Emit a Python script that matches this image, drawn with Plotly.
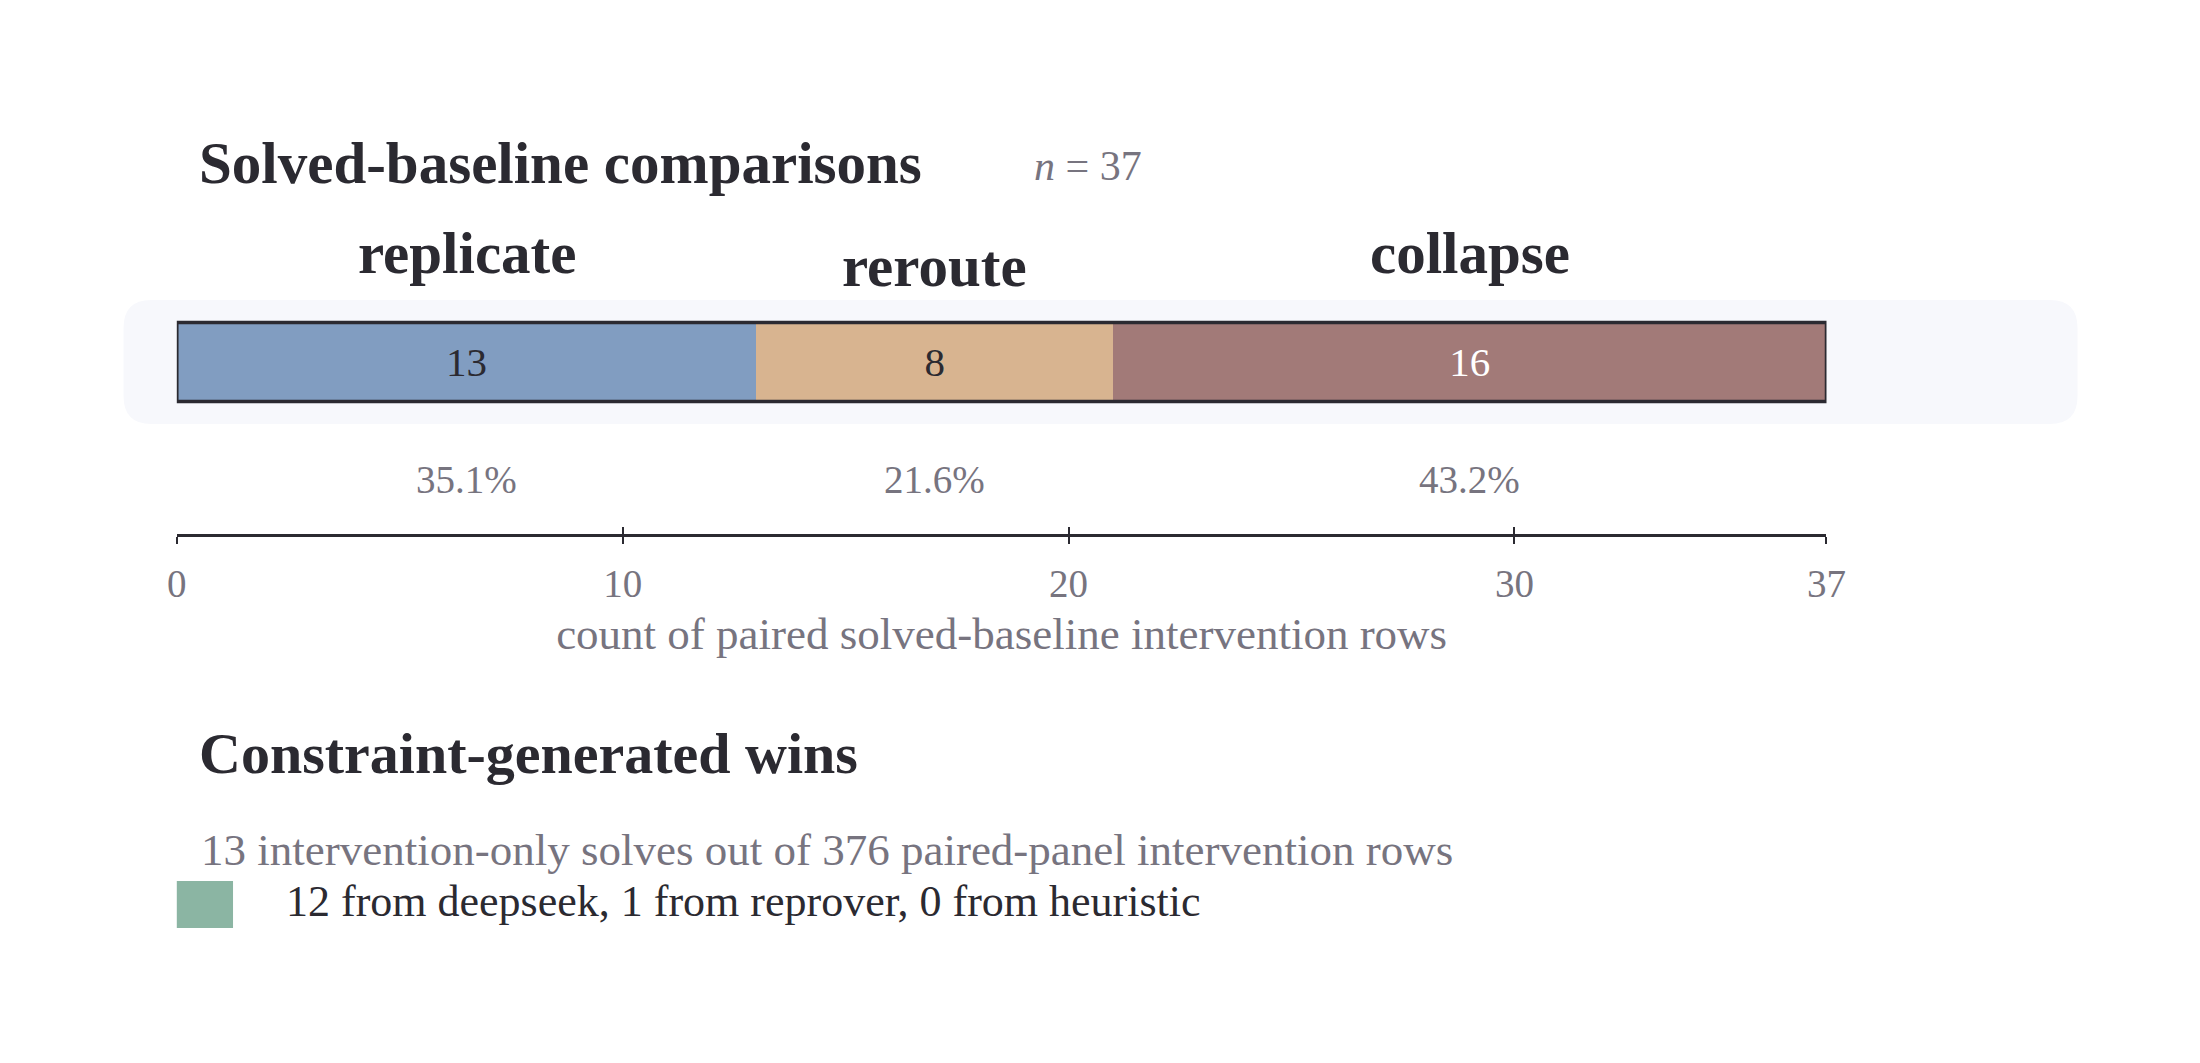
import plotly.graph_objects as go

# Data
categories = ['replicate', 'reroute', 'collapse']
counts = [13, 8, 16]
colors = ['#819dc1', '#d8b490', '#a27a78']
value_colors = ['#2b2a31', '#2b2a31', '#ffffff']
tick_vals = [0, 10, 20, 30, 37]

wins_total = 13
panel_rows = 376
wins_by_source = {'deepseek': 12, 'reprover': 1, 'heuristic': 0}

total = sum(counts)
W, H = 2200, 1063
FONT = 'Liberation Serif'
DARK = '#2b2a31'
GRAY = '#77747f'


def px(x, y):
    # pixel -> paper coords
    return x / W, 1 - y / H


fig = go.Figure()

# stacked horizontal bar segments
for cat, n, col, tc in zip(categories, counts, colors, value_colors):
    fig.add_trace(go.Bar(
        y=['solved'], x=[n], orientation='h', name=cat,
        marker=dict(color=col, line=dict(width=0)),
        width=0.8,
        text=[str(n)], textposition='inside', insidetextanchor='middle',
        textfont=dict(family=FONT, size=41, color=tc),
        hoverinfo='skip', showlegend=False,
    ))

# dummy trace for the overlay axis (ticks crossing the line)
fig.add_trace(go.Scatter(x=[0, total], y=['solved', 'solved'], xaxis='x2',
                         mode='markers', marker=dict(opacity=0),
                         hoverinfo='skip', showlegend=False))

annotations = []
shapes = []

# rounded background panel
x0, y0 = px(107, 292)
x1, y1 = px(2088, 416)
rx, ry = 28 / W, 28 / H
path = (f'M {x0+rx},{y0} L {x1-rx},{y0} Q {x1},{y0} {x1},{y0-ry} '
        f'L {x1},{y1+ry} Q {x1},{y1} {x1-rx},{y1} L {x0+rx},{y1} '
        f'Q {x0},{y1} {x0},{y1+ry} L {x0},{y0-ry} Q {x0},{y0} {x0+rx},{y0} Z')
shapes.append(dict(type='path', xref='paper', yref='paper', path=path,
                   fillcolor='#f7f8fc', line=dict(width=0), layer='below'))

# outline around the whole bar
shapes.append(dict(type='rect', xref='x', yref='y', x0=0, x1=total, y0=-0.4, y1=0.4,
                   line=dict(color=DARK, width=3.5), fillcolor='rgba(0,0,0,0)', layer='above'))

# category labels above segments, percentages below
start = 0
label_y = [245, 258, 245]
for cat, n, ly in zip(categories, counts, label_y):
    mid = start + n / 2
    annotations.append(dict(x=mid, xref='x', y=px(0, ly)[1], yref='paper',
                            text=f'<b>{cat}</b>', showarrow=False,
                            xanchor='center', yanchor='middle',
                            font=dict(family=FONT, size=59, color=DARK)))
    annotations.append(dict(x=mid, xref='x', y=-1.185, yref='y',
                            text=f'{n / total * 100:.1f}%', showarrow=False,
                            xanchor='center', yanchor='middle',
                            font=dict(family=FONT, size=39, color=GRAY)))
    start += n

# titles and notes
tx, ty = px(181, 155)
annotations.append(dict(x=tx, y=ty, xref='paper', yref='paper', text='<b>Solved-baseline comparisons</b>',
                        showarrow=False, xanchor='left', yanchor='middle',
                        font=dict(family=FONT, size=59, color=DARK)))
nx, ny = px(1028, 158)
annotations.append(dict(x=nx, y=ny, xref='paper', yref='paper', text=f'<i>n</i> = {total}',
                        showarrow=False, xanchor='left', yanchor='middle',
                        font=dict(family=FONT, size=42, color=GRAY)))
tx, ty = px(181, 745)
annotations.append(dict(x=tx, y=ty, xref='paper', yref='paper', text='<b>Constraint-generated wins</b>',
                        showarrow=False, xanchor='left', yanchor='middle',
                        font=dict(family=FONT, size=58, color=DARK)))
sx, sy = px(184, 842)
annotations.append(dict(x=sx, y=sy, xref='paper', yref='paper',
                        text=f'{wins_total} intervention-only solves out of {panel_rows} paired-panel intervention rows',
                        showarrow=False, xanchor='left', yanchor='middle',
                        font=dict(family=FONT, size=45, color=GRAY)))
lx, ly = px(270, 893)
src_text = ', '.join(f'{v} from {k}' for k, v in wins_by_source.items())
annotations.append(dict(x=lx, y=ly, xref='paper', yref='paper', text=src_text,
                        showarrow=False, xanchor='left', yanchor='middle',
                        font=dict(family=FONT, size=44, color=DARK)))
gx0, gy0 = px(161, 873)
gx1, gy1 = px(218, 920)
shapes.append(dict(type='rect', xref='paper', yref='paper', x0=gx0, x1=gx1, y0=gy1, y1=gy0,
                   fillcolor='#8bb5a3', line=dict(width=0)))

dom_x = [161 / W, 1833.5 / W]
dom_y = [1 - 526 / H, 1 - 300 / H]

fig.update_layout(
    width=W, height=H,
    barmode='stack',
    plot_bgcolor='rgba(0,0,0,0)', paper_bgcolor='white',
    margin=dict(l=0, r=0, t=0, b=0),
    xaxis=dict(domain=dom_x, range=[0, total], showgrid=False, zeroline=False,
               showline=True, linecolor=DARK, linewidth=2.5,
               ticks='outside', ticklen=7, tickwidth=2, tickcolor=DARK,
               tickvals=tick_vals, ticklabelstandoff=6,
               tickfont=dict(family=FONT, size=39, color=GRAY),
               title=dict(text='count of paired solved-baseline intervention rows',
                          font=dict(family=FONT, size=45, color=GRAY), standoff=14)),
    xaxis2=dict(domain=dom_x, range=[0, total], overlaying='x', anchor='y', side='bottom',
                showgrid=False, zeroline=False, showline=False,
                ticks='inside', ticklen=7, tickwidth=2, tickcolor=DARK,
                tickvals=tick_vals, showticklabels=False),
    yaxis=dict(domain=dom_y, range=[-1.742, 0.547], visible=False, fixedrange=True),
    shapes=shapes,
    annotations=annotations,
)

fig.write_html('out.html')
